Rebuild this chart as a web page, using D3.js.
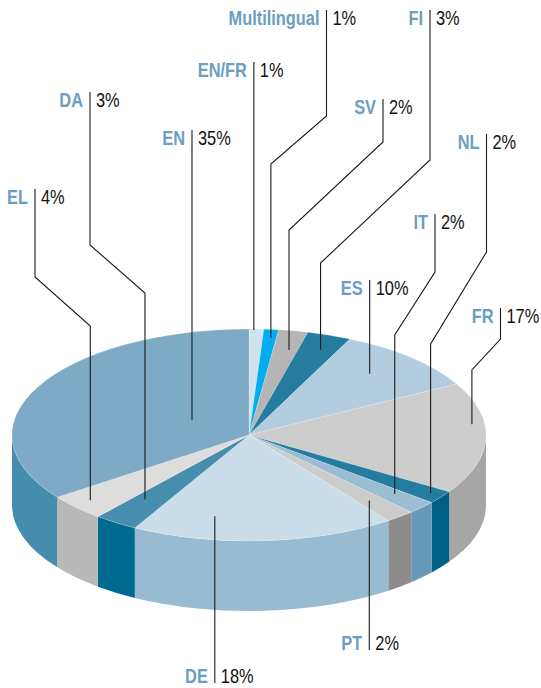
<!DOCTYPE html>
<html>
<head>
<meta charset="utf-8">
<script src="https://cdn.jsdelivr.net/npm/d3@7"></script>
<style>
  body { margin: 0; background: #fff; }
  svg text { font-family: 'Liberation Sans', Arial, sans-serif; }
</style>
</head>
<body>
<div id="chart"></div>
<script>
const categories = ["EN/FR", "Multilingual", "SV", "FI", "ES", "FR", "NL", "IT", "PT", "DE", "DA", "EL", "EN"];
const shares = [1, 1, 2, 3, 10, 17, 2, 2, 2, 18, 3, 4, 35];

const topColors = ["#d0e2ee", "#00aeef", "#b5b5b5", "#267c9e", "#b3cde0", "#cdcdcd",
  "#267c9e", "#9bbdd4", "#cccccc", "#cadeea", "#478dae", "#dddddd", "#7eaac6"];
const sideColors = ["#b0c8d8", "#0090c8", "#999999", "#005f85", "#8fb0c8", "#a6a6a6",
  "#005f85", "#6699b8", "#8c8c8c", "#99bbd2", "#006b91", "#b9b9b9", "#468cae"];

const width = 541;
const height = 688;
const cx = 249, cy = 435, rx = 237, ry = 106, depth = 70;
const squeeze = 0.82; // condensed look for the labels

// label placement: line x, text baseline, bends of the leader, anchor inside slice (t along slice, r radius)
const labelLayout = {
  "EN/FR":        { lx: null,  by: 77,  bends: null,       t: 0.33, r: 0.99 },
  "Multilingual": { lx: 326.5, by: 25,  bends: [116, 164], t: 0.6,  r: 0.92 },
  "SV":           { lx: 383,   by: 114, bends: [142, 230], t: 0.65, r: 0.82 },
  "FI":           { lx: 430,   by: 25,  bends: [160, 263], t: 0.57, r: 0.86 },
  "ES":           { lx: null,  by: 295, bends: null,       t: 0.45, r: 0.77 },
  "FR":           { lx: 500.5, by: 323, bends: [339, 370], t: 0.37, r: 0.946 },
  "NL":           { lx: 486.5, by: 149, bends: [252, 344], t: 0.44, r: 0.942 },
  "IT":           { lx: 435,   by: 229, bends: [272, 335], t: 0.36, r: 0.83 },
  "PT":           { lx: null,  by: 650, bends: null,       t: 0.53, r: 0.8, below: true },
  "DE":           { lx: null,  by: 683, bends: null,       t: 0.72, r: 0.78, below: true },
  "DA":           { lx: 90,    by: 107, bends: [245, 293], t: 0.65, r: 0.75 },
  "EL":           { lx: 35,    by: 204, bends: [277, 326], t: 0.54, r: 0.91 },
  "EN":           { lx: null,  by: 145, bends: null,       t: 0.53, r: 0.28 }
};

const svg = d3.select('#chart')
  .append('svg')
  .attr('width', width)
  .attr('height', height)
  .attr('viewBox', [0, 0, width, height]);

const x = d3.scaleLinear().domain([-1, 1]).range([cx - rx, cx + rx]);
const y = d3.scaleLinear().domain([-1, 1]).range([cy + ry, cy - ry]);
const px = (a, r = 1) => x(r * Math.sin(a));
const py = (a, r = 1) => y(r * Math.cos(a));

const topColor = d3.scaleOrdinal(categories, topColors);
const sideColor = d3.scaleOrdinal(categories, sideColors);

const pie = d3.pie().sort(null).value(d => d.value);
const arcs = pie(categories.map((c, i) => ({ name: c, value: shares[i] })));

function topPath(d) {
  const a0 = d.startAngle, a1 = d.endAngle;
  const large = a1 - a0 > Math.PI ? 1 : 0;
  return `M${cx},${cy}L${px(a0)},${py(a0)}A${rx},${ry} 0 ${large} 1 ${px(a1)},${py(a1)}Z`;
}

function sidePath(d) {
  const a0 = Math.max(d.startAngle, Math.PI / 2);
  const a1 = Math.min(d.endAngle, Math.PI * 1.5);
  if (a1 <= a0) return null;
  return `M${px(a0)},${py(a0)}A${rx},${ry} 0 0 1 ${px(a1)},${py(a1)}` +
    `L${px(a1)},${py(a1) + depth}A${rx},${ry} 0 0 0 ${px(a0)},${py(a0) + depth}Z`;
}

svg.append('g')
  .selectAll('path')
  .data(arcs.filter(d => sidePath(d)))
  .join('path')
    .attr('d', sidePath)
    .attr('fill', d => sideColor(d.data.name));

svg.append('g')
  .selectAll('path')
  .data(arcs)
  .join('path')
    .attr('d', topPath)
    .attr('fill', d => topColor(d.data.name))
    .attr('stroke', 'rgba(255,255,255,0.35)')
    .attr('stroke-width', 0.5);

// leaders and labels
const labels = svg.append('g')
  .selectAll('g')
  .data(arcs)
  .join('g');

labels.append('path')
  .attr('fill', 'none')
  .attr('stroke', '#1a1a1a')
  .attr('stroke-width', 1.1)
  .attr('d', d => {
    const L = labelLayout[d.data.name];
    const a = d.startAngle + (d.endAngle - d.startAngle) * L.t;
    const ax = px(a, L.r), ay = py(a, L.r);
    if (L.below) return `M${ax},${ay}V${L.by}`;
    const top = L.by - 15;
    if (!L.bends) return `M${ax},${top}V${ay}`;
    return `M${L.lx},${top}V${L.bends[0]}L${ax},${L.bends[1]}V${ay}`;
  });

function lineX(d) {
  const L = labelLayout[d.data.name];
  if (L.lx != null) return L.lx;
  const a = d.startAngle + (d.endAngle - d.startAngle) * L.t;
  return px(a, L.r);
}

labels.append('text')
  .attr('transform', d => `translate(${lineX(d) - 7},${labelLayout[d.data.name].by}) scale(${squeeze},1)`)
  .attr('text-anchor', 'end')
  .attr('font-size', '20px')
  .attr('font-weight', 'bold')
  .attr('fill', '#6b9ec0')
  .text(d => d.data.name);

labels.append('text')
  .attr('transform', d => `translate(${lineX(d) + 6},${labelLayout[d.data.name].by}) scale(${squeeze},1)`)
  .attr('font-size', '20px')
  .attr('fill', '#111')
  .text(d => d.data.value + '%');
</script>
</body>
</html>
